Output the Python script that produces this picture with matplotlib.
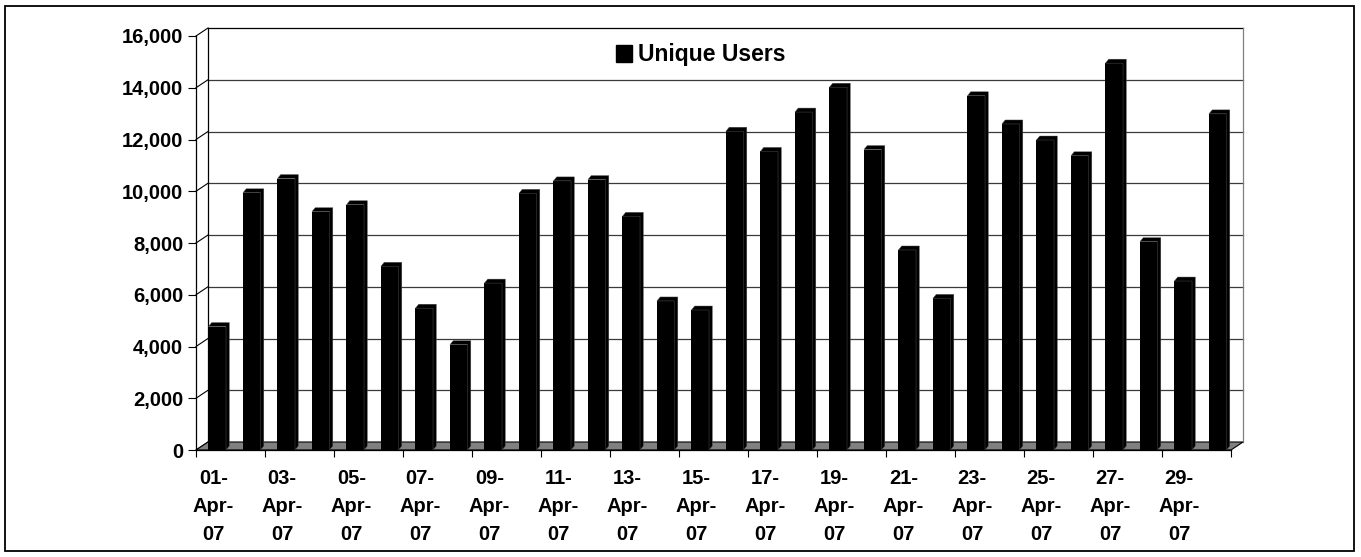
import numpy as np
import matplotlib
matplotlib.use("Agg")
import matplotlib.pyplot as plt
from matplotlib.patches import Polygon, Rectangle, Patch
from matplotlib.ticker import FixedLocator, FuncFormatter

plt.rcParams['font.family'] = ['Liberation Sans', 'DejaVu Sans']
plt.rcParams['font.weight'] = 'bold'

# ---- data ----
dates = [f"{d:02d}-Apr-07" for d in range(1, 31)]
unique_users = [4770, 9940, 10490, 9210, 9480, 7100, 5480, 4070, 6450, 9920,
                10400, 10450, 9030, 5760, 5410, 12320, 11540, 13060, 14020, 11610,
                7730, 5860, 13690, 12600, 11980, 11370, 14950, 8050, 6530, 12990]
series_name = "Unique Users"
y_ticks = list(range(0, 16001, 2000))

W, H = 1361, 557
fig = plt.figure(figsize=(W / 100, H / 100), dpi=100)

# outer border
fig.patches.append(Rectangle((5 / W, (H - 551) / H), (1354 - 5) / W, (551 - 6) / H,
                             transform=fig.transFigure, fill=False,
                             edgecolor='black', lw=1.3))

ax = fig.add_axes([196 / W, (H - 450) / H, (1231 - 196) / W, (450 - 36) / H])
n = len(unique_users)
ymax = 16000
ax.set_xlim(0, n)
ax.set_ylim(0, ymax)

pxx = (1231 - 196) / n        # pixels per category
pxy = (450 - 36) / ymax       # pixels per unit value
ddx, ddy = 12 / pxx, 8 / pxy  # depth offset (data units)
sdx, sdy = 3.3 / pxx, 4 / pxy # bar side/top bevel

# floor
ax.add_patch(Polygon([(0, 0), (n, 0), (n + ddx, ddy), (ddx, ddy)], closed=True,
                     facecolor='#808080', edgecolor='black', lw=0.8,
                     clip_on=False, zorder=1))

# back wall gridlines and side wall diagonals
for v in y_ticks:
    if v == 0:
        continue
    col = 'black' if v == ymax else '#3a3a3a'
    ax.plot([ddx, n + ddx], [v + ddy, v + ddy], color=col, lw=0.9,
            clip_on=False, zorder=0.5)
for v in y_ticks:
    ax.plot([0, ddx], [v, v + ddy], color='black', lw=0.8, clip_on=False, zorder=0.6)
ax.plot([ddx, ddx], [ddy, ymax + ddy], color='black', lw=0.9, clip_on=False, zorder=0.6)
ax.plot([n + ddx, n + ddx], [ddy, ymax + ddy], color='#808080', lw=0.9,
        clip_on=False, zorder=0.6)

# bars
x = np.arange(n)
x0 = x + 0.36
wbar = 0.51
ax.bar(x0, unique_users, width=wbar, align='edge', color='black', zorder=3,
       linewidth=0)
for xi, v in zip(x0, unique_users):
    x1 = xi + wbar
    ax.add_patch(Polygon([(xi, v), (x1, v), (x1, 0), (x1 + sdx, sdy),
                          (x1 + sdx, v + sdy), (xi + sdx, v + sdy)], closed=True,
                         facecolor='black', edgecolor='#555555', lw=0.3,
                         clip_on=False, zorder=3))

# spines
for s in ['top', 'right']:
    ax.spines[s].set_visible(False)
ax.spines['left'].set_linewidth(0.9)
ax.spines['bottom'].set_linewidth(0.9)
ax.spines['left'].set_zorder(4)
ax.spines['bottom'].set_zorder(4)
ax.patch.set_alpha(0)

# y axis
ax.yaxis.set_major_locator(FixedLocator(y_ticks))
ax.yaxis.set_major_formatter(FuncFormatter(lambda v, p: f"{int(v):,}"))
ax.tick_params(axis='y', length=5.8, width=0.8, pad=3.4, labelsize=14.5)

# x axis
ax.xaxis.set_major_locator(FixedLocator(list(range(0, n + 1, 2))))
ax.xaxis.set_major_formatter(FuncFormatter(lambda v, p: ""))
centers = [i + 0.5 for i in range(0, n, 2)]
ax.xaxis.set_minor_locator(FixedLocator(centers))
ax.set_xticklabels([dates[i].replace('-', '-\n') for i in range(0, n, 2)],
                   minor=True, fontsize=14.5, linespacing=1.57)
ax.tick_params(axis='x', which='major', length=5, width=0.8)
ax.tick_params(axis='x', which='minor', length=0, pad=14)

# legend
leg = fig.legend(handles=[Patch(facecolor='black', edgecolor='black')],
                 labels=[series_name], loc='center',
                 bbox_to_anchor=(701 / W, (H - 55) / H), frameon=False,
                 prop={'size': 16.5, 'weight': 'bold'}, handlelength=0.7,
                 handleheight=0.7, handletextpad=0.25, borderpad=0, borderaxespad=0)

fig.savefig("out.png", dpi=100)
